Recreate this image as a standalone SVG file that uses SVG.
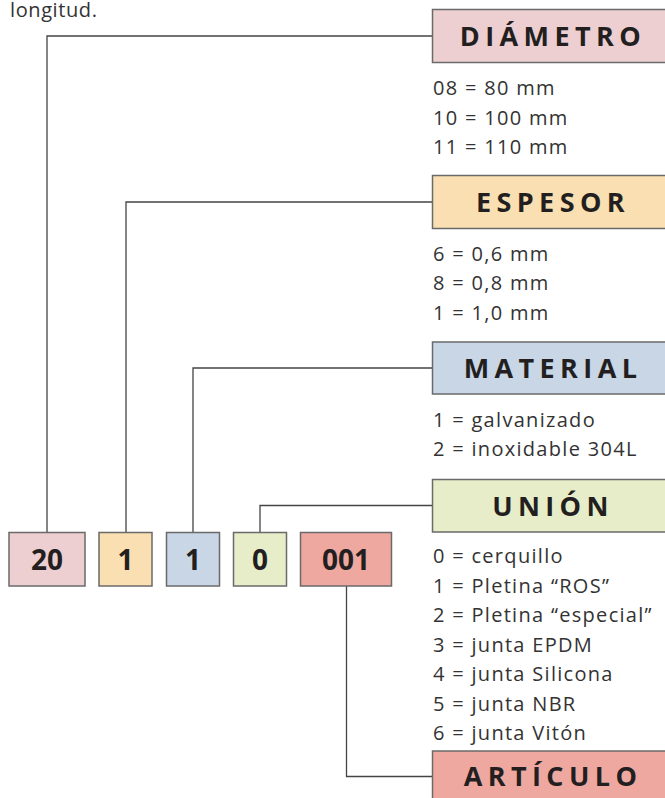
<svg xmlns="http://www.w3.org/2000/svg" width="665" height="798" viewBox="0 0 665 798">
<style>
.item{font-family:"Open Sans","Liberation Sans",sans-serif;font-size:20px;letter-spacing:1.3px;fill:#333333}
.title{font-family:"Open Sans","Liberation Sans",sans-serif;font-size:27px;font-weight:700;letter-spacing:5.4px;fill:#231f20;text-anchor:middle}
.code{font-family:"Open Sans","Liberation Sans",sans-serif;font-size:28px;font-weight:700;fill:#231f20;text-anchor:middle}
.box{stroke:#6a6a6a;stroke-width:1.5}
.conn{fill:none;stroke:#444444;stroke-width:1.3}
.pink{fill:#edcfd2}.orange{fill:#f9dfb1}.blue{fill:#c8d6e6}.green{fill:#e6edc8}.red{fill:#efa8a0}
</style>
<rect width="665" height="798" fill="#ffffff"/>
<text class="item" x="10" y="16.5" style="letter-spacing:0.6px">longitud.</text>
<g id="connectors">
<polyline class="conn" points="433,36 47,36 47,532"/>
<polyline class="conn" points="433,202 126,202 126,532"/>
<polyline class="conn" points="433,368 193,368 193,532"/>
<polyline class="conn" points="433,505.5 260,505.5 260,532"/>
<polyline class="conn" points="346.5,586 346.5,776.5 433,776.5"/>
</g>
<g id="diametro">
<rect class="box pink" x="432.5" y="9.5" width="250" height="53"/>
<text class="title" x="553" y="46">DIÁMETRO</text>
<text class="item" x="433" y="95">08 = 80 mm</text>
<text class="item" x="433" y="124.5">10 = 100 mm</text>
<text class="item" x="433" y="154">11 = 110 mm</text>
</g>
<g id="espesor">
<rect class="box orange" x="432.5" y="175.5" width="250" height="53"/>
<text class="title" x="553" y="212">ESPESOR</text>
<text class="item" x="433" y="260.5">6 = 0,6 mm</text>
<text class="item" x="433" y="290">8 = 0,8 mm</text>
<text class="item" x="433" y="319.5">1 = 1,0 mm</text>
</g>
<g id="material">
<rect class="box blue" x="432.5" y="342" width="250" height="52"/>
<text class="title" x="553" y="378">MATERIAL</text>
<text class="item" x="433" y="426.5">1 = galvanizado</text>
<text class="item" x="433" y="456">2 = inoxidable 304L</text>
</g>
<g id="union">
<rect class="box green" x="432.5" y="479.5" width="250" height="52.5"/>
<text class="title" x="553" y="515.5">UNIÓN</text>
<text class="item" x="433" y="563">0 = cerquillo</text>
<text class="item" x="433" y="592.5">1 = Pletina “ROS”</text>
<text class="item" x="433" y="622">2 = Pletina “especial”</text>
<text class="item" x="433" y="651.5">3 = junta EPDM</text>
<text class="item" x="433" y="681">4 = junta Silicona</text>
<text class="item" x="433" y="710.5">5 = junta NBR</text>
<text class="item" x="433" y="740">6 = junta Vitón</text>
</g>
<g id="articulo">
<rect class="box red" x="432.5" y="751" width="250" height="55"/>
<text class="title" x="553" y="786">ARTÍCULO</text>
</g>
<g id="code-20">
<rect class="box pink" x="9" y="532.5" width="76" height="53.5"/>
<text class="code" x="47" y="570">20</text>
</g>
<g id="code-1a">
<rect class="box orange" x="99" y="532.5" width="53" height="53.5"/>
<text class="code" x="125.5" y="570">1</text>
</g>
<g id="code-1b">
<rect class="box blue" x="166.5" y="532.5" width="53" height="53.5"/>
<text class="code" x="193" y="570">1</text>
</g>
<g id="code-0">
<rect class="box green" x="233.5" y="532.5" width="53" height="53.5"/>
<text class="code" x="260" y="570">0</text>
</g>
<g id="code-001">
<rect class="box red" x="300.5" y="532.5" width="91" height="53.5"/>
<text class="code" x="346" y="570">001</text>
</g>
</svg>
